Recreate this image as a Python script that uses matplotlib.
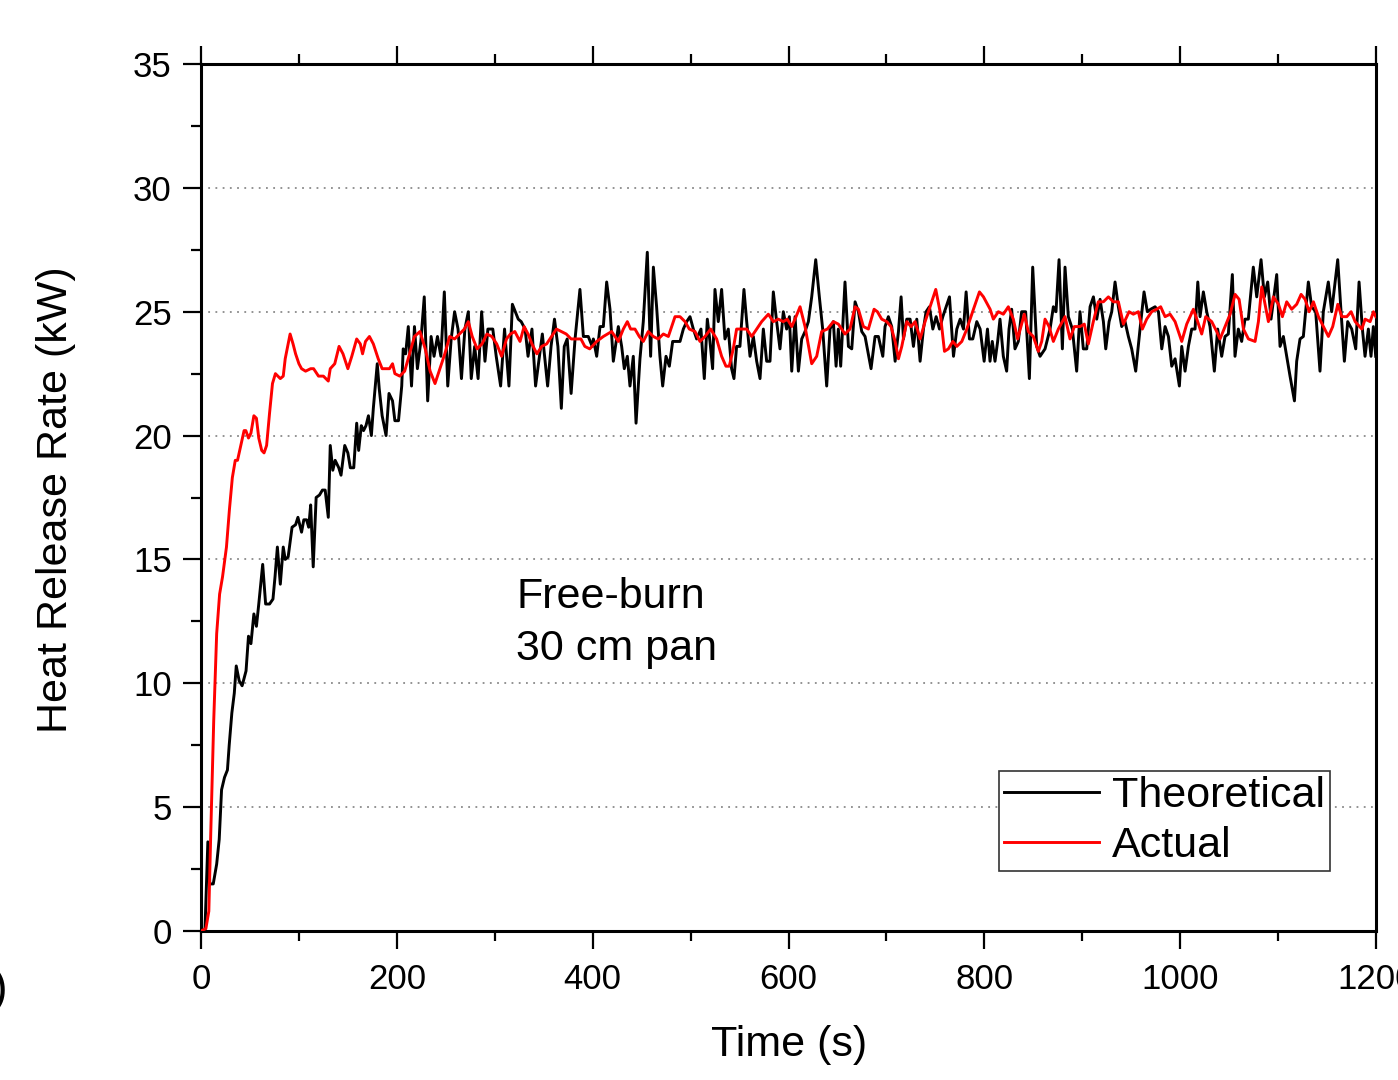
import matplotlib
matplotlib.use("Agg")
import matplotlib.pyplot as plt
from matplotlib.ticker import MultipleLocator

plt.rcParams['font.family'] = ['Liberation Sans', 'DejaVu Sans']

# ---- data ----
theo_t = [0, 4, 7, 9, 12.5, 16, 18.6, 21, 24, 27, 28.8, 31.5, 34, 36, 39, 42, 46, 48.5, 51, 54, 56.6, 59, 63, 66, 70,
          73.5, 75.6, 78, 81, 84, 86, 89, 93, 96.6, 99, 102.7, 105, 107.8, 110, 112, 114.6, 117.6, 121, 124, 126.8,
          130, 132, 134.6, 137, 140.7, 143, 146.8, 150, 152.5, 156, 159, 161, 163.7, 166, 168.5, 171, 174, 176, 180,
          182, 185, 189, 192, 195.6, 198, 201.7,
          205, 206.5, 209, 211.7, 215, 218, 221, 224.5, 228, 231.5, 235, 238, 241.5, 245, 248.5, 252, 255.5, 259,
          262.5, 266, 269.5, 273, 276, 279.5, 283, 286.6, 290, 293, 298, 301.5, 306, 310, 314.5, 318, 321, 324, 327,
          331, 334, 338, 341.7, 345, 348.6, 354, 357.5, 361, 364.5, 368, 371, 374, 378, 382, 387, 390.5, 395.5, 399.5,
          400.7, 404.1, 407.5, 410.9, 414.3, 417.7, 421.1, 426.2, 429.6, 432.3, 435.4, 438.1, 441.5, 444.3, 448.3,
          451.7, 455.8, 459.2, 462, 465.3, 468.7, 471.5, 474.9, 478.3, 481.7, 485.1, 489.2, 492.6, 496, 499.4, 502.8,
          506.2, 510.6, 514, 517.1, 519.8, 522.5, 524.9, 528.3, 531.7, 535.1, 538.5, 541.9, 544.3, 547, 550.4, 554.5,
          557.3, 560.7, 564.1, 567.5, 570.9, 574.3, 577.7, 581.1, 584.5, 587.9, 591.3, 594.7, 598.1, 600.9, 603.3,
          606.7, 610.1, 613.5, 616.9, 620.3, 623.7, 627.8, 631.5, 634.9, 639, 642.4, 645.8, 648.6, 650.9, 653.3,
          657.7, 661.2, 664.6, 668, 671.4, 674.8, 678.2, 684.3, 688.4, 691.8, 696.3, 698.6, 702, 705.4, 708.9, 712.3,
          715, 717.4, 720.8, 724.2, 727.6, 731, 734.4, 737.8, 740.5, 743.9, 747.4, 750.8, 754.2, 757.6, 761, 764.4,
          768.5, 771.9, 775.3, 778.7, 781.4, 784.8, 788.2, 792.3, 795.7, 799.8, 803.2,
          805.8, 808.1, 810.9, 813.6, 816, 819.4, 822.8, 825.2, 827.9, 831.3, 834.7, 838.1, 842.2, 846, 849.4, 853.5,
          856.9, 862, 867.1, 870.5, 873.2, 876.3, 879.7, 882.4, 885.8, 889.9, 894.3, 897.7, 901.1, 904.6, 908, 911.4,
          914.8, 918.2, 921.6, 924, 927.4, 930.1, 933.5, 936.9, 940.3, 943.7, 947.1, 950.5, 954.6, 959, 963.1, 966.5,
          969.9, 974.4, 977.8, 981.2, 984.6, 988, 991.4, 994.8, 999.2, 1001.6, 1005, 1008.4, 1011.8, 1015.2, 1018,
          1020.3, 1023.7, 1027.1, 1030.5, 1034.9, 1038.3, 1042.4, 1045.8, 1049.2, 1053.3, 1056, 1059.4, 1062.8,
          1066.2, 1069.6, 1074.7, 1078.2, 1082.6, 1086, 1089.4, 1092.8, 1098.6, 1102, 1105.4, 1108.8, 1112.2, 1116.7,
          1119, 1122.4, 1125.8, 1130.9, 1134.3, 1138.4, 1142.8, 1146.2, 1151.3, 1154.7, 1160.9, 1164.3, 1167.7,
          1171.1, 1175.2, 1179.3, 1182.7, 1186.1, 1188.8, 1192.2, 1194.9, 1197.3, 1199.7]
theo_v = [0, 0, 3.6, 1.9, 1.9, 2.7, 3.7, 5.7, 6.2, 6.5, 7.5, 8.8, 9.6, 10.7, 10.1, 9.9, 10.5, 11.9, 11.6, 12.8, 12.3,
          13.2, 14.8, 13.2, 13.2, 13.4, 14.3, 15.5, 14.0, 15.5, 15.0, 15.1, 16.3, 16.4, 16.7, 16.1, 16.6, 16.6, 16.3,
          17.2, 14.7, 17.5, 17.6, 17.8, 17.8, 16.7, 19.6, 18.6, 19.0, 18.7, 18.4, 19.6, 19.3, 18.7, 18.7, 20.5, 19.4,
          20.4, 20.2, 20.4, 20.8, 20.0, 21.1, 22.9, 21.9, 20.8, 20.0, 21.7, 21.4, 20.6, 20.6,
          22.0, 23.5, 23.3, 24.4, 22.0, 24.4, 22.7, 23.8, 25.6, 21.4, 24.0, 23.2, 24.0, 23.2, 25.8, 22.0, 23.9, 25.0,
          24.3, 22.3, 24.3, 25.0, 22.3, 23.6, 22.3, 25.0, 23.0, 24.3, 24.3, 23.2, 22.0, 24.3, 22.0, 25.3, 25.0, 24.7,
          24.6, 24.3, 23.2, 24.3, 22.0, 23.0, 24.1, 22.0, 23.6, 24.7, 23.6, 21.1, 23.6, 23.9, 21.7, 23.9, 25.9, 24.0,
          24.0, 23.6,
          23.9, 23.2, 24.4, 24.4, 26.2, 25.1, 23.0, 24.4, 23.6, 22.7, 23.2, 22.0, 23.2, 20.5, 23.1, 24.6, 27.4, 23.2,
          26.8, 25.2, 23.2, 22.0, 23.2, 22.8, 23.8, 23.8, 23.8, 24.3, 24.6, 24.8, 24.3, 23.9, 24.3, 22.3, 24.7, 23.8,
          22.7, 25.9, 24.6, 25.9, 23.9, 24.3, 22.7, 22.3, 23.6, 23.6, 25.9, 24.6, 23.2, 24.0, 23.0, 22.3, 24.3, 23.0,
          23.0, 25.8, 24.6, 23.5, 25.0, 24.3, 24.8, 22.6, 24.8, 22.6, 23.9, 24.2, 24.6, 25.6, 27.1, 25.6, 24.3, 22.0,
          24.3, 24.6, 22.8, 24.3, 22.8, 26.2, 23.6, 23.5, 25.4, 25.0, 24.2, 24.0, 22.7, 24.0, 24.0, 23.2, 24.4, 24.8,
          24.4, 23.0, 24.2, 25.6, 23.9, 24.7, 24.7, 23.6, 24.7, 23.0, 24.3, 25.0, 25.2, 24.3, 24.8, 24.3, 24.8, 25.2,
          25.6, 23.2, 24.3, 24.7, 24.3, 25.8, 23.9, 23.9, 24.6, 24.3, 23.0, 24.3,
          23.0, 23.8, 23.0, 23.8, 24.7, 23.2, 22.6, 24.3, 25.1, 23.5, 23.8, 25.0, 25.0, 22.3, 26.8, 23.6, 23.2, 23.5,
          24.3, 25.2, 25.0, 27.1, 23.5, 26.8, 24.8, 24.3, 22.6, 25.0, 23.5, 23.5, 25.2, 25.6, 24.7, 25.5, 24.6, 23.5,
          24.6, 25.0, 26.2, 25.2, 24.4, 24.6, 24.0, 23.5, 22.6, 24.3, 25.8, 25.0, 25.1, 25.2, 25.0, 23.5, 24.4, 24.0,
          22.8, 23.1, 22.0, 23.6, 22.6, 23.6, 24.3, 24.3, 26.2, 24.8, 25.8, 25.0, 24.4, 22.6, 24.3, 23.2, 24.0, 24.1,
          26.5, 23.2, 24.3, 23.8, 24.7, 24.7, 26.8, 25.6, 27.1, 25.6, 26.2, 24.7, 26.5, 23.6, 24.0, 23.2, 22.4, 21.4,
          23.0, 23.9, 24.0, 26.2, 25.2, 25.0, 22.6, 25.0, 26.2, 25.0, 27.1, 25.0, 23.0, 24.6, 24.3, 23.5, 26.2, 24.3,
          23.2, 24.3, 23.2, 24.4, 23.2]

act_t = [0, 5, 8, 10, 13, 16, 19, 22, 26, 29, 32, 35, 37.3, 40.7, 44, 45.8, 48.5, 51, 54, 56.6, 59, 62, 64.4, 67,
         70, 73, 76, 81, 84, 86, 91, 94, 96.6, 100, 102.7, 106.8, 112, 115, 120, 125, 130, 132, 136.6, 141, 145, 150,
         154, 159, 162.7, 165, 168, 172, 176, 181, 185, 189, 192.5, 195.6, 198, 203,
         208, 213, 218, 223.6, 229, 234, 239, 244, 249, 254, 259, 264, 269, 273, 277, 282, 287, 292, 297, 302, 307,
         312, 316, 320.5, 325.8, 330, 334, 338, 343, 348, 353, 358, 363, 368, 373, 378, 383, 388, 392, 397,
         404.1, 410.9, 419.4, 426.2, 431.3, 435.4, 438.8, 443.2, 447.6, 451.7, 456.8, 461.9, 467, 472.2, 477.3,
         484.1, 489.2, 494.3, 498.7, 504.5, 509.6, 514.7, 520.5, 526.6, 531.7, 536.1, 539.5, 543.6, 547, 552.1,
         557.3, 562.4, 567.5, 572.6, 579.4, 584.5, 589.6, 594.7, 598.8, 603.3, 607.7, 611.8, 616.9, 623.7, 628.8,
         633.9, 639.7, 645.8, 650.9, 657.7, 662.8, 668, 671.4, 676.5, 681.6, 687.4, 690.8, 695.2, 700.3, 704.7,
         708.9, 712.3, 715.7, 720.8, 725.2, 729.3, 734.4, 739.5, 744.6, 750.4, 754.8, 759.3, 763.3, 767.8, 771.9,
         777, 782.1, 788.9, 795, 799.1, 805.9,
         809.2, 814.3, 819.4, 824.5, 829.6, 834, 837.4, 840.8, 844.9, 850, 855.2, 858.6, 862, 866.1, 870.5, 875.6,
         882.4, 887.5, 891.9, 897.7, 902.1, 906.2, 911.3, 916.4, 921.6, 926.7, 931.8, 936.9, 942, 947.8, 952.2,
         957.3, 961.4, 965.8, 970.9, 976, 980.1, 984.6, 989.7, 994.8, 1001.6, 1006.7, 1013.5, 1017.9, 1022, 1026.1,
         1032.2, 1037.3, 1040.7, 1045.8, 1051, 1056.1, 1060.2, 1064.6, 1069.7, 1076.5, 1079.9, 1083.3, 1086.7,
         1090.1, 1095.2, 1100.4, 1104.4, 1108.8, 1113.9, 1119, 1123.5, 1127.6, 1131.7, 1136.1, 1141.2, 1146.3,
         1151.4, 1155.8, 1161, 1165, 1170.2, 1174.6, 1178.7, 1185.5, 1188.9, 1194, 1197.4, 1199.8]
act_v = [0, 0.1, 0.8, 4, 8.5, 12.0, 13.6, 14.3, 15.5, 17.0, 18.3, 19.0, 19.0, 19.6, 20.2, 20.2, 19.9, 20.1, 20.8,
         20.7, 19.9, 19.4, 19.3, 19.6, 20.9, 22.1, 22.5, 22.3, 22.4, 23.1, 24.1, 23.7, 23.3, 22.9, 22.7, 22.6, 22.7,
         22.7, 22.4, 22.4, 22.2, 22.7, 22.9, 23.6, 23.3, 22.7, 23.2, 23.9, 23.7, 23.3, 23.8, 24.0, 23.7, 23.1, 22.7,
         22.7, 22.7, 22.9, 22.5, 22.4,
         22.6, 23.3, 24.0, 24.2, 23.5, 22.6, 22.1, 22.7, 23.3, 24.0, 23.9, 24.1, 24.3, 24.6, 24.0, 23.5, 23.7, 24.1,
         24.0, 23.7, 23.2, 23.9, 24.1, 24.2, 23.8, 24.4, 24.1, 23.7, 23.3, 23.6, 23.7, 24.0, 24.3, 24.2, 24.1, 23.9,
         23.9, 23.9, 23.6, 23.5,
         23.8, 24.0, 24.2, 23.8, 24.3, 24.6, 24.3, 24.3, 24.0, 23.8, 24.2, 24.0, 23.9, 24.1, 24.0, 24.8, 24.8, 24.6,
         24.3, 24.2, 23.8, 24.0, 24.3, 23.9, 23.2, 22.8, 22.8, 23.5, 24.3, 24.3, 24.3, 24.0, 24.3, 24.6, 24.9, 24.6,
         24.7, 24.6, 24.7, 24.4, 24.8, 25.2, 24.4, 22.9, 23.2, 24.2, 24.3, 24.6, 24.5, 24.1, 24.3, 25.2, 25.1, 24.4,
         24.3, 25.1, 25.0, 24.7, 24.6, 24.4, 23.8, 23.1, 23.6, 24.6, 24.4, 24.6, 23.9, 24.6, 25.2, 25.9, 25.0, 23.4,
         23.5, 23.8, 23.6, 23.8, 24.3, 25.1, 25.8, 25.6, 25.1,
         24.7, 25.0, 24.9, 25.2, 24.7, 23.9, 24.4, 24.9, 24.2, 24.0, 23.4, 23.8, 24.7, 24.4, 23.8, 24.3, 24.8, 23.9,
         24.4, 24.4, 24.5, 23.7, 24.6, 25.4, 25.4, 25.6, 25.4, 25.4, 24.5, 25.0, 24.9, 25.0, 24.3, 24.7, 25.0, 25.1,
         25.2, 24.8, 24.9, 24.6, 23.8, 24.5, 25.1, 24.6, 24.1, 24.8, 24.6, 24.2, 23.9, 24.4, 24.9, 25.7, 25.5, 24.3,
         23.9, 23.8, 24.6, 26.0, 25.3, 24.6, 25.6, 25.3, 24.8, 25.4, 25.1, 25.3, 25.7, 25.5, 25.0, 25.4, 24.8, 24.4,
         24.0, 24.4, 25.3, 24.8, 24.8, 25.0, 24.6, 24.3, 24.7, 24.6, 25.0, 24.8]

series_labels = ["Theoretical", "Actual"]
x_label = "Time (s)"
y_label = "Heat Release Rate (kW)"
note = "Free-burn\n30 cm pan"

# ---- figure ----
W, H = 1398, 1080
fig = plt.figure(figsize=(W / 100, H / 100), dpi=100)
ax = fig.add_axes([201 / W, (H - 931) / H, 1175 / W, 867 / H])

ax.plot(theo_t, theo_v, color='black', lw=2.1, label=series_labels[0], zorder=3)
ax.plot(act_t, act_v, color='#ff0000', lw=2.1, label=series_labels[1], zorder=4)

ax.set_xlim(0, 1200)
ax.set_ylim(0, 35)
ax.xaxis.set_major_locator(MultipleLocator(200))
ax.xaxis.set_minor_locator(MultipleLocator(100))
ax.yaxis.set_major_locator(MultipleLocator(5))
ax.yaxis.set_minor_locator(MultipleLocator(2.5))

ax.yaxis.grid(True, which='major', color='#8a8a8a', lw=1.3, linestyle=(0, (1, 3)), zorder=1)
ax.set_axisbelow(True)

for s in ax.spines.values():
    s.set_linewidth(2.2)
    s.set_color('black')

ax.tick_params(which='both', direction='out', top=True, right=False, labeltop=False,
               labelright=False, width=1.6, colors='black', labelsize=25)
ax.tick_params(which='major', length=13, pad=10)
ax.tick_params(which='minor', length=7)
ax.tick_params(axis='y', which='major', pad=8)

ax.set_xlabel(x_label, fontsize=31)
ax.set_ylabel(y_label, fontsize=31)
ax.xaxis.set_label_coords(0.5004, -0.108)
ax.yaxis.set_label_coords(-0.106, 0.497)

ax.text(322, 14.3, note, fontsize=31, ha='left', va='top', linespacing=1.38)

leg = ax.legend(loc='lower right', bbox_to_anchor=(0.9609, 0.0692), borderaxespad=0,
                fontsize=31, frameon=True, fancybox=False, framealpha=1,
                handlelength=2.2, handletextpad=0.3, borderpad=0.12, labelspacing=0.22,
                edgecolor='#333333')
leg.get_frame().set_linewidth(1.2)
for ln in leg.get_lines():
    ln.set_linewidth(2.1)

# clipped remnant of a panel label at the left edge
fig.text(7 / W, 1 - 990 / H, ')', fontsize=34, ha='right', va='center')

fig.savefig('out.png', dpi=100)
